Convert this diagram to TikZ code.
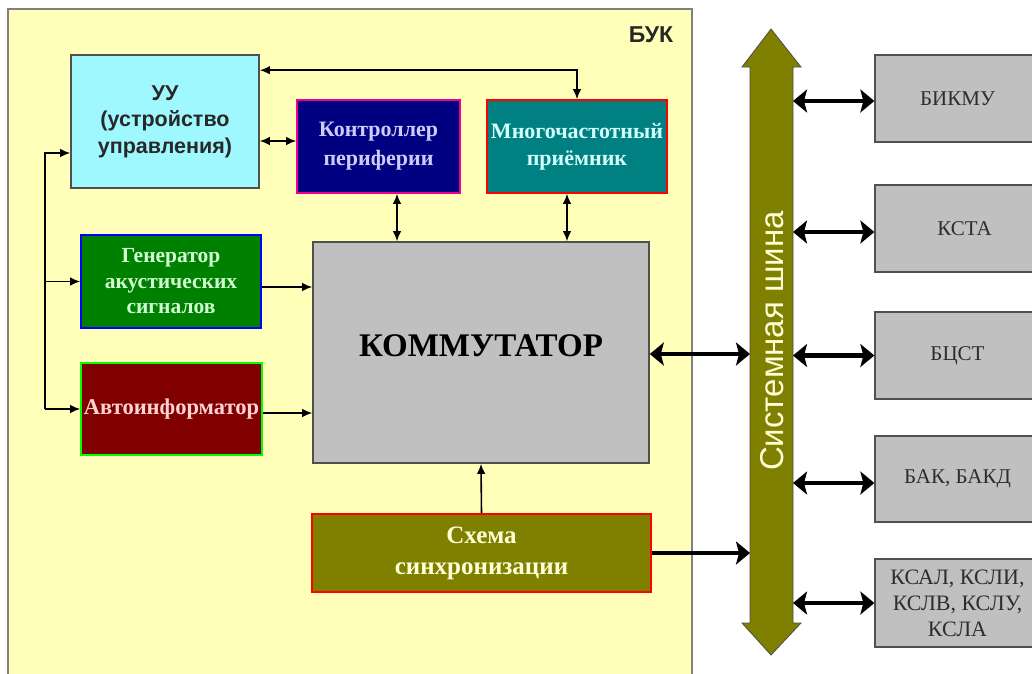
\documentclass[tikz,border=0pt]{standalone}
\usepackage{fontspec}
\setmainfont{Liberation Serif}
\setsansfont{Liberation Sans}
\usetikzlibrary{arrows.meta,calc}

\definecolor{bukfill}{RGB}{255,255,185}
\definecolor{bukline}{RGB}{128,128,128}
\definecolor{uufill}{RGB}{160,248,255}
\definecolor{uutext}{RGB}{40,40,40}
\definecolor{navyfill}{RGB}{0,0,128}
\definecolor{navytext}{RGB}{204,204,255}
\definecolor{tealfill}{RGB}{0,128,128}
\definecolor{tealtext}{RGB}{210,255,255}
\definecolor{greenfill}{RGB}{0,128,0}
\definecolor{greentext}{RGB}{210,255,210}
\definecolor{maroonfill}{RGB}{128,0,0}
\definecolor{maroontext}{RGB}{255,210,210}
\definecolor{olivefill}{RGB}{128,128,0}
\definecolor{olivetext}{RGB}{255,255,215}
\definecolor{greyfill}{RGB}{192,192,192}
\definecolor{greyline}{RGB}{80,80,80}
\definecolor{greytext}{RGB}{45,45,45}

\begin{document}
\begin{tikzpicture}[x=1pt,y=-1pt,
  block/.style={draw, rectangle, line width=1.6pt, inner sep=0pt, align=center,
    font=\bfseries\fontsize{22}{29}\selectfont},
  unit/.style={block, fill=greyfill, draw=greyline, line width=1.3pt,
    font=\fontsize{21}{26}\selectfont, text=greytext,
    minimum width=165pt},
  link/.style={line width=1.6pt, >={Latex[length=10pt,width=8.5pt]}},
  buslink/.style={line width=4.8pt, >={Stealth[length=14pt,width=23pt,inset=3pt]}}]

\useasboundingbox (0,0) rectangle (1032,673);
\clip (0,0) rectangle (1032,673);

% enclosure of the БУК unit
\draw[fill=bukfill, draw=bukline, line width=1.6pt] (8,9) rectangle (692,700);
\node[font=\sffamily\bfseries\fontsize{23}{26}\selectfont, text=uutext] (buk) at (651,35) {БУК};

% internal blocks
\node[block, fill=uufill, draw=greyline, text=uutext,
  font=\sffamily\bfseries\fontsize{21.5}{26.5}\selectfont,
  minimum width=188pt, minimum height=133pt] (uu) at (165,121.5)
  {УУ\\(устройство\\управления)};
\node[block, fill=navyfill, draw=magenta, text=navytext,
  minimum width=163pt, minimum height=93pt] (ctrl) at (378.5,146.5)
  {Контроллер\\периферии};
\node[block, fill=tealfill, draw=red, text=tealtext,
  font=\bfseries\fontsize{22}{27}\selectfont,
  minimum width=180pt, minimum height=93pt] (mfr) at (577,146.5)
  {Многочастотный\\приёмник};
\node[block, fill=greenfill, draw=blue, text=greentext,
  font=\bfseries\fontsize{21.5}{25.5}\selectfont,
  minimum width=180pt, minimum height=93pt] (gen) at (171,281.5)
  {Генератор\\акустических\\сигналов};
\node[block, fill=maroonfill, draw=green, text=maroontext,
  font=\bfseries\fontsize{22.5}{28}\selectfont,
  minimum width=181pt, minimum height=92pt] (avto) at (171.5,409)
  {Автоинформатор};
\node[block, fill=greyfill, draw=greyline, text=black,
  font=\bfseries\fontsize{33}{36}\selectfont,
  minimum width=336pt, minimum height=221pt] (komm) at (481,352.5)
  {\raisebox{13pt}{КОММУТАТОР}};
\node[block, fill=olivefill, draw=red, text=olivetext,
  font=\bfseries\fontsize{25}{31}\selectfont,
  minimum width=339pt, minimum height=78pt] (sync) at (481.5,553)
  {Схема\\синхронизации};

% system bus
\coordinate (busL) at (750,0);
\coordinate (busR) at (793,0);
\draw[fill=olivefill, draw=black!70, line width=0.8pt]
  (771,29) -- (801,67) -- (793,67) -- (793,623) -- (801,623) -- (771,655)
  -- (742,623) -- (750,623) -- (750,67) -- (742,67) -- cycle;
\node[rotate=90, text=olivetext, font=\sffamily\fontsize{33}{36}\selectfont]
  (busname) at (772,341) {Системная шина};

% external units
\node[unit, minimum height=87pt] (bikmu) at (957.5,98.5) {БИКМУ};
\node[unit, minimum height=87pt] (ksta) at (957.5,228.5) {\hspace*{14pt}КСТА};
\node[unit, minimum height=87pt] (bcst) at (957.5,355.5) {БЦСТ};
\node[unit, minimum height=86pt] (bak) at (957.5,479) {БАК, БАКД};
\node[unit, minimum height=88pt, font=\fontsize{22}{26}\selectfont] (ksal) at (957.5,603)
  {КСАЛ, КСЛИ,\\КСЛВ, КСЛУ,\\КСЛА};

% control links inside БУК
\coordinate (lbus) at (45,0);
\draw[link,<->] ([yshift=-16pt]uu.north east) -| (mfr.north);
\draw[link,<->] ([yshift=-19.5pt]uu.east) -- ([yshift=-19.5pt]uu.east -| ctrl.west);
\draw[link,<->] ([xshift=18.5pt]ctrl.south) -- ([xshift=18.5pt]ctrl.south |- komm.north);
\draw[link,<->] ([xshift=-10pt]mfr.south) -- ([xshift=-10pt]mfr.south |- komm.north);
\draw[link,->] (lbus |- avto.west) |- ([yshift=-31.5pt]uu.west);
\draw[link,->] (lbus |- gen.west) -- (gen.west);
\draw[link,->] (lbus |- avto.west) -- (avto.west);
\draw[link,->] ([yshift=-5.5pt]gen.east) -- ([yshift=-5.5pt]gen.east -| komm.west);
\draw[link,->] ([yshift=-4pt]avto.east) -- ([yshift=-4pt]avto.east -| komm.west);
\draw[link,->] (sync.north) -- (komm.south);

% links to the system bus
\draw[buslink,<->] ([yshift=-1.5pt]komm.east) -- ([yshift=-1.5pt]komm.east -| busL);
\draw[buslink,->] (sync.east) -- (sync.east -| busL);
\draw[buslink,<->] ($(busR |- bikmu.west)+(0,2.5)$) -- ([yshift=-2.5pt]bikmu.west);
\draw[buslink,<->] ($(busR |- ksta.west)+(0,3.5)$) -- ([yshift=-3.5pt]ksta.west);
\draw[buslink,<->] (busR |- bcst.west) -- (bcst.west);
\draw[buslink,<->] ($(busR |- bak.west)+(0,4)$) -- ([yshift=-4pt]bak.west);
\draw[buslink,<->] (busR |- ksal.west) -- (ksal.west);
\end{tikzpicture}
\end{document}
